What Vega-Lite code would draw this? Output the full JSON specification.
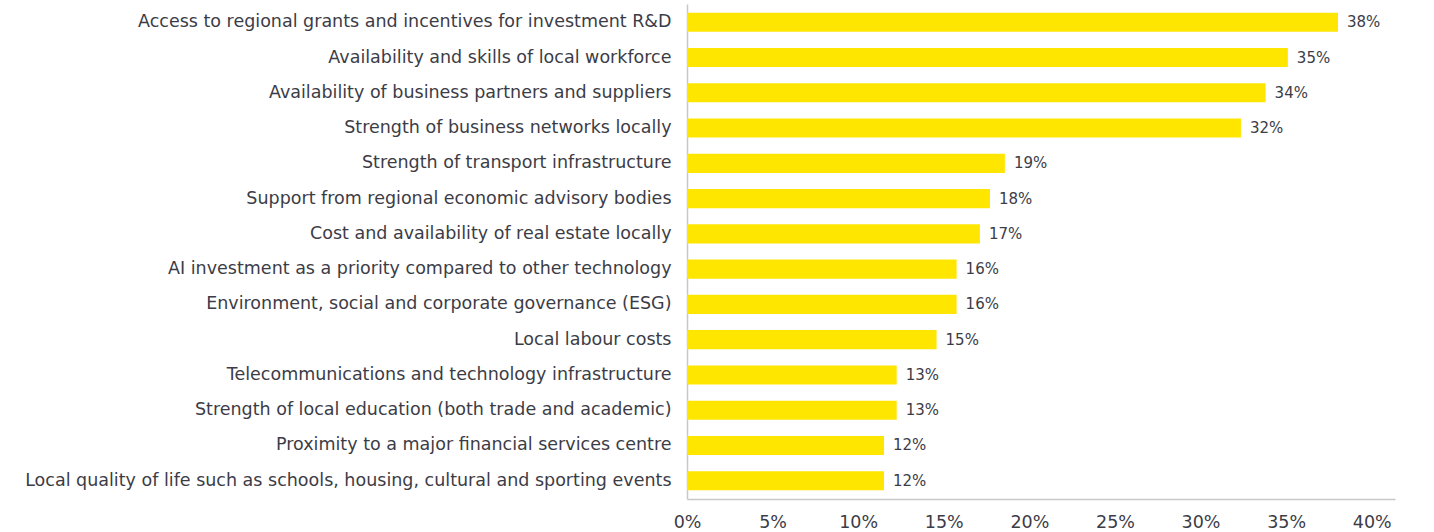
{
  "$schema": "https://vega.github.io/schema/vega-lite/v6.json",
  "autosize": {"type": "none"},
  "padding": {"left": 687, "top": 4, "right": 39, "bottom": 33},
  "width": 708,
  "height": 495,
  "background": "white",
  "config": {"view": {"stroke": null}, "font": "DejaVu Sans"},
  "data": {"values": [
    {"factor": "Access to regional grants and incentives for investment R&D", "value": 0.3803, "label": "38%"},
    {"factor": "Availability and skills of local workforce", "value": 0.351, "label": "35%"},
    {"factor": "Availability of business partners and suppliers", "value": 0.338, "label": "34%"},
    {"factor": "Strength of business networks locally", "value": 0.3236, "label": "32%"},
    {"factor": "Strength of transport infrastructure", "value": 0.1857, "label": "19%"},
    {"factor": "Support from regional economic advisory bodies", "value": 0.177, "label": "18%"},
    {"factor": "Cost and availability of real estate locally", "value": 0.1711, "label": "17%"},
    {"factor": "AI investment as a priority compared to other technology", "value": 0.1575, "label": "16%"},
    {"factor": "Environment, social and corporate governance (ESG)", "value": 0.1575, "label": "16%"},
    {"factor": "Local labour costs", "value": 0.1458, "label": "15%"},
    {"factor": "Telecommunications and technology infrastructure", "value": 0.1225, "label": "13%"},
    {"factor": "Strength of local education (both trade and academic)", "value": 0.1225, "label": "13%"},
    {"factor": "Proximity to a major financial services centre", "value": 0.1151, "label": "12%"},
    {"factor": "Local quality of life such as schools, housing, cultural and sporting events", "value": 0.1151, "label": "12%"}
  ]},
  "encoding": {
    "y": {"field": "factor", "type": "nominal", "sort": null,
      "scale": {"paddingInner": 0.46, "paddingOuter": 0.25},
      "axis": {"title": null, "ticks": false, "domainColor": "#c8c8cc", "domainWidth": 1.5,
        "labelFontSize": 17.5, "labelColor": "#3c3c46", "labelPadding": 16, "labelLimit": 0, "labelFont": "DejaVu Sans"}},
    "x": {"field": "value", "type": "quantitative",
      "scale": {"domain": [0, 0.4136], "nice": false},
      "axis": {"title": null, "format": ".0%", "values": [0, 0.05, 0.1, 0.15, 0.2, 0.25, 0.3, 0.35, 0.4],
        "grid": false, "ticks": false, "domainColor": "#c8c8cc", "domainWidth": 1.5, "labelFont": "DejaVu Sans",
        "labelFontSize": 17.5, "labelColor": "#3c3c46", "labelPadding": 14, "labelDx": 10, "labelFlush": false}}
  },
  "layer": [
    {"mark": {"type": "bar", "color": "#FFE600"}},
    {"mark": {"type": "text", "align": "left", "dx": 9, "fontSize": 15, "color": "#3c3c46", "font": "DejaVu Sans"},
      "encoding": {"text": {"field": "label", "type": "nominal"}}}
  ]
}
